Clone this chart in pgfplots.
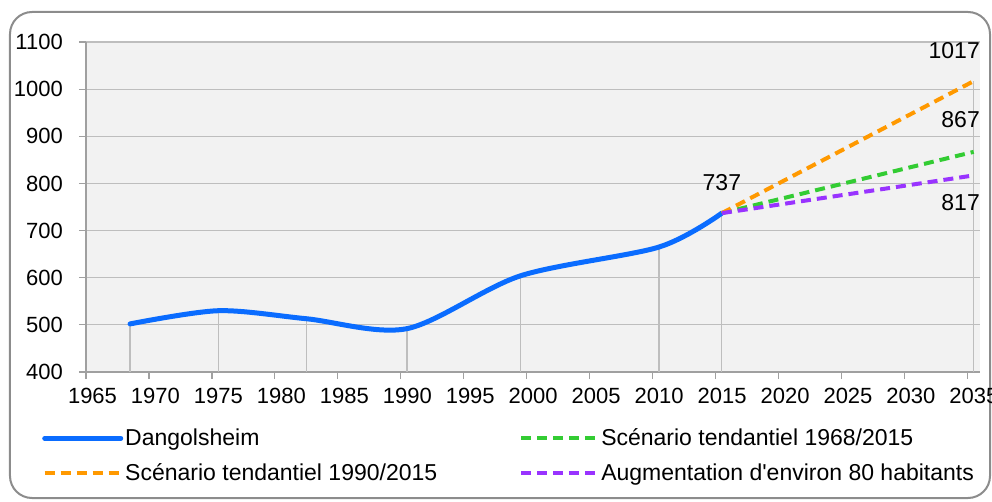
\documentclass[border=0pt]{standalone}
\usepackage{fontspec}
\setmainfont{Liberation Sans}[Ligatures=TeXOff]
\usepackage{pgfplots}
\pgfplotsset{compat=1.18}
\definecolor{cblue}{RGB}{10,108,255}
\definecolor{corange}{RGB}{255,153,0}
\definecolor{cgreen}{RGB}{51,204,51}
\definecolor{cpurple}{RGB}{153,51,255}
\definecolor{bgc}{RGB}{242,242,242}
\definecolor{gridc}{RGB}{190,190,190}
\definecolor{axisc}{RGB}{160,160,160}
\definecolor{framec}{RGB}{140,140,140}
\begin{document}
\begin{tikzpicture}[font=\fontsize{23bp}{27bp}\selectfont]
\useasboundingbox (-86bp,-130bp) rectangle (906bp,372bp);
\draw[color=framec, line width=2bp, rounded corners=22bp] (-76bp,-126bp) rectangle (904bp,360bp);
\begin{axis}[
  at={(0,0)}, anchor=south west,
  scale only axis, width=894bp, height=330bp,
  xmin=1965, xmax=2036, ymin=400, ymax=1100,
  xtick={1965,1970,...,2035}, ytick={400,500,...,1100},
  /pgf/number format/1000 sep={},
  /pgf/number format/assume math mode=true,
  axis background/.style={fill=bgc},
  ymajorgrids, grid style={color=gridc, line width=1.2bp},
  axis lines*=left,
  axis line style={color=axisc, line width=1.2bp, -},
  tick align=outside,
  major tick length=7bp,
  tick style={color=axisc, line width=1.2bp},
  ticklabel style={font=\fontsize{22bp}{26bp}\selectfont},
  xticklabel style={inner sep=0pt, anchor=north, yshift=-9bp, xshift=6.5bp},
  yticklabel style={inner sep=0pt, anchor=east, xshift=-16bp},
  legend columns=2,
  legend cell align=left,
  legend style={draw=none, fill=none, at={(-0.0525,-0.16)}, anchor=north west,
    /tikz/every even column/.append style={column sep=80bp},
    row sep=12bp, font=\fontsize{23bp}{27bp}\selectfont},
  legend image code/.code={\draw[#1] (0bp,0bp) -- (76bp,0bp);},
]
\addplot[ycomb, color=gridc, line width=1.2bp, forget plot] coordinates {
  (1968.5,502) (1975.5,530) (1982.5,513) (1990.5,492) (1999.5,604) (2010.5,665) (2015.5,737) (2035.5,1017)};
\addplot[color=cblue, line width=5bp, smooth, tension=0.5, line cap=round] coordinates {
  (1968.5,502) (1975.5,530) (1982.5,513) (1990.5,492) (1999.5,604) (2010.5,665) (2015.5,737)};
\addlegendentry{Dangolsheim}
\addplot[color=cgreen, line width=4bp, dash pattern=on 10bp off 6bp] coordinates {(2015.5,737) (2035.5,867)};
\addlegendentry{Scénario tendantiel 1968/2015}
\addplot[color=corange, line width=4bp, dash pattern=on 10bp off 6bp] coordinates {(2015.5,737) (2035.5,1017)};
\addlegendentry{Scénario tendantiel 1990/2015}
\addplot[color=cpurple, line width=4bp, dash pattern=on 10bp off 6bp] coordinates {(2015.5,737) (2035.5,817)};
\addlegendentry{Augmentation d'environ 80 habitants}
\node[inner sep=0pt, anchor=center, yshift=31bp] at (axis cs:2015.5,737) {737};
\node[inner sep=0pt, anchor=east, yshift=31bp] at (axis cs:2036,1017) {1017};
\node[inner sep=0pt, anchor=east, yshift=32bp] at (axis cs:2036,867) {867};
\node[inner sep=0pt, anchor=east, yshift=-27bp] at (axis cs:2036,817) {817};
\end{axis}
\end{tikzpicture}
\end{document}
